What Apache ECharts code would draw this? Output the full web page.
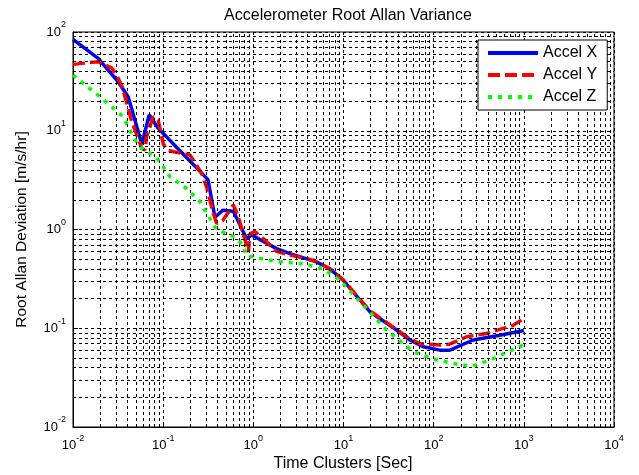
<!DOCTYPE html>
<html>
<head>
<meta charset="utf-8">
<script src="https://cdn.jsdelivr.net/npm/echarts@6/dist/echarts.min.js"></script>
<style>
  html, body { margin: 0; padding: 0; background: #ffffff; }
  #chart { width: 639px; height: 475px; }
</style>
</head>
<body>
<div id="chart"></div>
<script>
// Root Allan deviation of the three accelerometer axes vs. cluster time
const tauX = [0.01, 0.019, 0.032, 0.041, 0.058, 0.070, 0.088, 0.314, 0.375, 0.46, 0.60, 0.84, 0.96, 1.81, 2.55, 5.0, 7.06, 9.9, 19.6, 38.8, 54.5, 76.5, 117, 151, 274, 542, 1000];
const devX = [84, 54, 31, 22, 7.3, 14.5, 10.6, 3.2, 1.33, 1.57, 1.53, 0.81, 0.88, 0.64, 0.57, 0.47, 0.40, 0.307, 0.147, 0.096, 0.076, 0.065, 0.060, 0.060, 0.076, 0.085, 0.095];

const tauY = [0.01, 0.019, 0.027, 0.0305, 0.035, 0.045, 0.058, 0.063, 0.0655, 0.0776, 0.088, 0.1, 0.109, 0.135, 0.198, 0.267, 0.303, 0.359, 0.392, 0.46, 0.60, 0.68, 0.81, 0.88, 0.92, 1.04, 1.29, 1.81, 2.55, 4.6, 7.06, 9.9, 19.6, 38.8, 54.5, 70, 117, 150, 232, 386, 762, 1000];
const devY = [47, 50, 43, 36.6, 28, 12.3, 6.6, 6.4, 8.7, 13.9, 12.8, 7.45, 6.4, 6.1, 5.7, 3.7, 2.7, 1.46, 1.15, 1.24, 1.77, 1.35, 0.78, 0.59, 0.91, 0.95, 0.81, 0.60, 0.55, 0.49, 0.40, 0.31, 0.15, 0.097, 0.078, 0.070, 0.0675, 0.069, 0.082, 0.0885, 0.107, 0.125];

const tauZ = [0.01, 0.02, 0.036, 0.0466, 0.055, 0.066, 0.078, 0.092, 0.119, 0.182, 0.256, 0.39, 0.60, 0.77, 0.84, 1.18, 1.97, 3.57, 5.96, 9.1, 18, 30, 59, 98.6, 164, 263, 420, 670, 1000];
const devZ = [36.6, 22, 13.9, 8.7, 6.9, 6.1, 5.7, 4.85, 3.42, 2.6, 1.91, 1.0, 0.85, 0.70, 0.54, 0.51, 0.47, 0.45, 0.40, 0.307, 0.158, 0.096, 0.058, 0.049, 0.044, 0.041, 0.0475, 0.058, 0.068];

const seriesNames = ['Accel X', 'Accel Y', 'Accel Z'];
const seriesColors = ['#0000ff', '#ff0000', '#00ff00'];

// decade ticks for both axes
const xDecades = [0.01, 0.1, 1, 10, 100, 1000, 10000];
const yDecades = [0.01, 0.1, 1, 10, 100];
const minorSteps = [2, 3, 4, 5, 6, 7, 8, 9];

function pairs(xs, ys) { return xs.map((x, i) => [x, ys[i]]); }
function minorLines(decades) {
  const out = [];
  for (let i = 0; i < decades.length - 1; i++) {
    minorSteps.forEach(k => out.push(k * decades[i]));
  }
  return out;
}
function powLabel(v) {
  const e = Math.round(Math.log10(v));
  return '{b|10}{s|' + e + '}';
}

const font = 'Liberation Sans, Arial, sans-serif';
const gridDash = { color: '#000000', width: 1, type: [3, 3] };
const labelRich = {
  b: { fontSize: 13, fontFamily: font, color: '#000', verticalAlign: 'middle' },
  s: { fontSize: 9, fontFamily: font, color: '#000', verticalAlign: 'middle', padding: [0, 0, 14, 0] }
};

const chart = echarts.init(document.getElementById('chart'), null, { renderer: 'canvas' });

const gridLineData = minorLines(xDecades).map(v => ({ xAxis: v }))
  .concat(minorLines(yDecades).map(v => ({ yAxis: v })));

chart.setOption({
  animation: false,
  backgroundColor: '#ffffff',
  title: {
    text: 'Accelerometer Root Allan Variance',
    left: 343, top: 3, textAlign: 'center',
    textStyle: { fontFamily: font, fontSize: 16, fontWeight: 'normal', color: '#000' }
  },
  // x-axis title
  graphic: [{
    type: 'text', x: 343, y: 464, silent: true,
    style: { text: 'Time Clusters [Sec]', fontFamily: font, fontSize: 16, fill: '#000', align: 'center', verticalAlign: 'middle' }
  }],
  grid: {
    left: 73, top: 32, right: 25, bottom: 48,
    outerBoundsMode: 'none', containLabel: false,
    show: true, borderColor: '#000', borderWidth: 1, backgroundColor: '#fff'
  },
  legend: {
    data: seriesNames,
    orient: 'vertical',
    left: 478, top: 40, z: 20,
    padding: [5, 10, 5, 8],
    itemWidth: 50, itemHeight: 14, itemGap: 6,
    backgroundColor: '#ffffff', borderColor: '#000', borderWidth: 1,
    itemStyle: { opacity: 0 },
    lineStyle: { width: 4, cap: 'butt' },
    textStyle: { fontFamily: font, fontSize: 16, color: '#000', lineHeight: 15 }
  },
  xAxis: {
    type: 'log', logBase: 10, min: 0.01, max: 10000, interval: 1,
    axisLine: { show: true, lineStyle: { color: '#000', width: 1 } },
    axisTick: { show: true, inside: true, length: 5, lineStyle: { color: '#000' } },
    axisLabel: { formatter: powLabel, rich: labelRich, margin: 7, showMinLabel: true, showMaxLabel: true },
    splitLine: { show: true, lineStyle: gridDash }
  },
  yAxis: {
    type: 'log', logBase: 10, min: 0.01, max: 100, interval: 1,
    name: 'Root Allan Deviation [m/s/hr]', nameLocation: 'middle', nameGap: 43, nameRotate: 90,
    nameTextStyle: { fontFamily: font, fontSize: 15.5, color: '#000' },
    axisLine: { show: true, lineStyle: { color: '#000', width: 1 } },
    axisTick: { show: true, inside: true, length: 5, lineStyle: { color: '#000' } },
    axisLabel: { formatter: powLabel, rich: labelRich, margin: 7, showMinLabel: true, showMaxLabel: true },
    splitLine: { show: true, lineStyle: gridDash }
  },
  series: [
    {
      // minor grid (2..9 within each decade)
      type: 'line', data: [], silent: true, z: 1,
      markLine: {
        silent: true, symbol: 'none', animation: false,
        label: { show: false },
        lineStyle: gridDash,
        emphasis: { disabled: true },
        data: gridLineData
      }
    },
    {
      name: seriesNames[0], type: 'line', data: pairs(tauX, devX), z: 3,
      symbol: 'none', color: seriesColors[0],
      lineStyle: { color: seriesColors[0], width: 3.5, type: 'solid' }
    },
    {
      name: seriesNames[1], type: 'line', data: pairs(tauY, devY), z: 4,
      symbol: 'none', color: seriesColors[1],
      lineStyle: { color: seriesColors[1], width: 3.5, type: [12, 5], cap: 'butt' }
    },
    {
      name: seriesNames[2], type: 'line', data: pairs(tauZ, devZ), z: 5,
      symbol: 'none', color: seriesColors[2],
      lineStyle: { color: seriesColors[2], width: 3.5, type: [4, 6], cap: 'butt' }
    }
  ]
});
</script>
</body>
</html>
